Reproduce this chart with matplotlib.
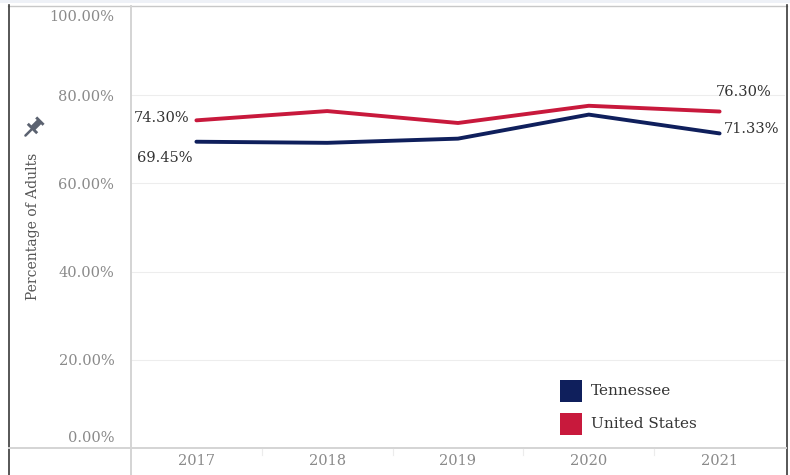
import matplotlib
matplotlib.use("Agg")
import numpy as np
import matplotlib.pyplot as plt
from matplotlib.lines import Line2D
from matplotlib.patches import Rectangle, Polygon
from matplotlib.transforms import offset_copy

plt.rcParams['font.family'] = ['DejaVu Serif']

years = ['2017', '2018', '2019', '2020', '2021']
tennessee = [69.45, 69.2, 70.15, 75.6, 71.33]
united_states = [74.30, 76.4, 73.7, 77.6, 76.30]
y_ticks = [0, 20, 40, 60, 80, 100]
tn_color = '#0f1f5c'
us_color = '#c8193c'
tick_grey = '#8a8a8a'

W, H = 790, 475
fig = plt.figure(figsize=(W / 100, H / 100), dpi=100)

def fx(px):
    return px / W

def fy(py):
    return 1 - py / H

ax = fig.add_axes([fx(131), fy(448), fx(785) - fx(131), fy(7) - fy(448)])
x = list(range(len(years)))
ax.plot(x, tennessee, color=tn_color, lw=2.8, solid_capstyle='round', zorder=3)
ax.plot(x, united_states, color=us_color, lw=2.8, solid_capstyle='round', zorder=3)
ax.set_xlim(-0.5, len(years) - 0.5)
ax.set_ylim(0, 100)

for s in ax.spines.values():
    s.set_visible(False)
for v in y_ticks[1:-1]:
    ax.axhline(v, color='#ededed', lw=0.8, zorder=1)

ax.set_yticks(y_ticks)
ax.set_yticklabels(['%.2f%%' % v for v in y_ticks])
ax.set_xticks(x)
ax.set_xticklabels(years)
ax.tick_params(axis='both', length=0, colors=tick_grey, labelsize=10.5)
ax.tick_params(axis='y', pad=12)
ax.tick_params(axis='x', pad=4)
ylabels = ax.get_yticklabels()
ylabels[0].set_va('bottom')
ylabels[0].set_transform(offset_copy(ylabels[0].get_transform(), fig=fig, y=3, units='dots'))
ylabels[-1].set_va('top')
ylabels[-1].set_transform(offset_copy(ylabels[-1].get_transform(), fig=fig, y=-3, units='dots'))

# data labels at ends
lab_kw = dict(fontsize=10.5, color='#333333', zorder=4)
ax.annotate('%.2f%%' % united_states[0], (0, united_states[0]), xytext=(-5, 2),
            textcoords='offset points', ha='right', va='center', **lab_kw)
ax.annotate('%.2f%%' % tennessee[0], (0, tennessee[0]), xytext=(-3, -12),
            textcoords='offset points', ha='right', va='center', **lab_kw)
ax.annotate('%.2f%%' % united_states[-1], (4, united_states[-1]), xytext=(-3, 14),
            textcoords='offset points', ha='left', va='center', **lab_kw)
ax.annotate('%.2f%%' % tennessee[-1], (4, tennessee[-1]), xytext=(3, 3),
            textcoords='offset points', ha='left', va='center', **lab_kw)

fig.text(fx(33), fy(226), 'Percentage of Adults', rotation=90, ha='center', va='center',
         fontsize=10, color='#555555')

# frame pieces
fig.add_artist(Rectangle((0, fy(3)), 1, 1 - fy(3), transform=fig.transFigure,
                         color='#eef1f7', lw=0))
fig.add_artist(Line2D([fx(8), fx(787)], [fy(5.5), fy(5.5)], color='#c8c8c8', lw=1))
fig.add_artist(Line2D([fx(8.5), fx(8.5)], [fy(5), 0], color='#3a3a3a', lw=1.2))
fig.add_artist(Line2D([fx(786.5), fx(786.5)], [fy(5), 0], color='#3a3a3a', lw=1.2))
fig.add_artist(Line2D([fx(9), fx(786)], [fy(448), fy(448)], color='#d4d4d4', lw=1.4))
fig.add_artist(Line2D([fx(131), fx(131)], [fy(6), 0], color='#d4d4d4', lw=1.4))
for i in range(1, len(years)):
    xp = 131 + i * 130.8
    fig.add_artist(Line2D([fx(xp), fx(xp)], [fy(449), fy(455)], color='#ececec', lw=0.8))

# pin icon (drawn upright, then tilted 45 degrees)
pin_ax = fig.add_axes([fx(20), fy(141), fx(26), fy(0) - fy(26)])
pin_ax.set_xlim(-13, 13)
pin_ax.set_ylim(-13, 13)
pin_ax.axis('off')
head = np.array([(-7, -3), (7, -3), (7, 0), (3.2, 0), (3.2, 8), (5.5, 8), (5.5, 11),
                 (-5.5, 11), (-5.5, 8), (-3.2, 8), (-3.2, 0), (-7, 0)], dtype=float) * 0.95
needle = np.array([(0, -3), (0, -12)], dtype=float) * 0.95
ang = np.deg2rad(-45)
rot = np.array([[np.cos(ang), -np.sin(ang)], [np.sin(ang), np.cos(ang)]])
head_r = head @ rot.T + [0.5, 0.5]
needle_r = needle @ rot.T + [0.5, 0.5]
pin_ax.add_patch(Polygon(head_r, closed=True, color='#5b6270', lw=0))
pin_ax.plot(needle_r[:, 0], needle_r[:, 1], color='#5b6270', lw=1.8, solid_capstyle='round')

# legend
for i, (name, col) in enumerate([('Tennessee', tn_color), ('United States', us_color)]):
    top = 380 + i * 33
    fig.add_artist(Rectangle((fx(560), fy(top + 22)), fx(22), fy(0) - fy(22),
                             transform=fig.transFigure, color=col, lw=0))
    fig.text(fx(591), fy(top + 11), name, ha='left', va='center', fontsize=11, color='#333333')

fig.savefig('out.png', dpi=100)
